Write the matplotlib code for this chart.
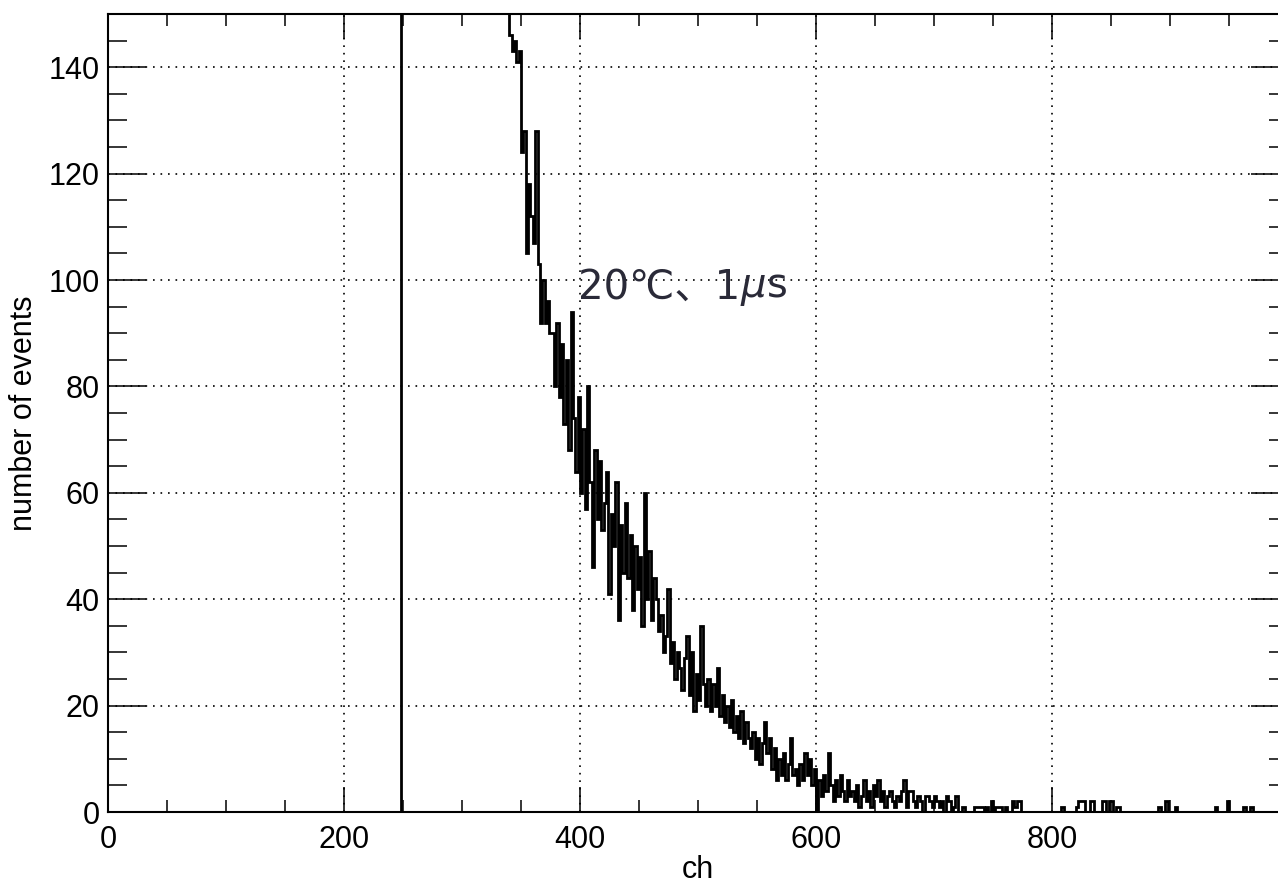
import numpy as np
import matplotlib.pyplot as plt
from matplotlib.ticker import MultipleLocator

# histogram: 2-channel bins
bin_width = 2
first_ch = 338
decay_counts = [
    152, 146, 143, 145, 141, 143, 124, 128, 105, 118,   # 338-356
    112, 107, 128, 103, 92, 100, 92, 96, 90, 90,        # 358-376
    80, 92, 78, 88, 73, 85, 68, 94, 74, 64,             # 378-396
    78, 60, 72, 57, 80, 62, 46, 68, 55, 66,             # 398-416
    53, 58, 64, 41, 56, 50, 62, 36, 54, 45,             # 418-436
    58, 44, 52, 38, 50, 42, 48, 35, 60, 40,             # 438-456
    49, 36, 44, 40, 34, 37, 30, 33, 42, 28,             # 458-476
    32, 25, 30, 27, 23, 29, 33, 22, 30, 19,             # 478-496
    26, 21, 35, 24, 20, 25, 19, 24, 20, 27,             # 498-516
    18, 22, 17, 20, 16, 21, 15, 18, 14, 19,             # 518-536
    13, 17, 14, 12, 15, 10, 14, 9, 13, 17,              # 538-556
    11, 14, 8, 12, 6, 10, 7, 11, 6, 9,                  # 558-576
    14, 7, 8, 5, 9, 6, 11, 7, 10, 5,                    # 578-596
    8, 0, 6, 3, 7, 4, 11, 5, 2, 6,                      # 598-616
    3, 7, 4, 2, 6, 3, 4, 2, 5, 1,                       # 618-636
    3, 6, 2, 4, 1, 5, 3, 6, 2, 4,                       # 638-656
    1, 3, 4, 2, 1, 3, 2, 4, 6, 1,                       # 658-676
    4, 4, 2, 1, 3, 2, 0, 3, 3, 2,                       # 678-696
    1, 3, 2, 1, 2, 0, 3, 2, 0, 1,                       # 698-716
    3, 0, 0, 1, 0, 0, 0, 0, 1, 1,                       # 718-736
    1, 1, 0, 1, 0, 2, 0, 1, 1, 1,                       # 738-756
    0, 1, 0, 0, 2, 1, 2, 2, 0,                          # 758-774
]
# sparse tail
tail_ch = [808, 820, 822, 824, 826, 832, 834, 842, 844, 848, 850, 854, 856,
           890, 896, 904, 938, 948, 962, 968]
tail_counts = [1, 1, 2, 2, 2, 2, 2, 2, 2, 2, 2, 1, 1,
               1, 2, 1, 1, 2, 1, 1]
# block between threshold and 338 runs far above the frame
threshold_ch = 248
overflow_level = 400
last_ch = 1000

n_bins = (last_ch - first_ch) // bin_width
counts = np.zeros(n_bins)
counts[:len(decay_counts)] = decay_counts
for c, v in zip(tail_ch, tail_counts):
    counts[(c - first_ch) // bin_width] = v

values = np.concatenate([[overflow_level], counts])
edges = np.concatenate([[threshold_ch], first_ch + bin_width * np.arange(n_bins + 1)])

plt.rcParams["font.family"] = ["Liberation Sans", "DejaVu Sans"]

fig = plt.figure(figsize=(12.78, 8.84), dpi=100)
# right edge sits just past the canvas, like the cropped original
ax = fig.add_axes([108 / 1278, 72 / 884, 1180 / 1278, 798 / 884])

ax.stairs(values, edges, baseline=0, color="black", lw=2.0)

ax.set_xlim(0, last_ch)
ax.set_ylim(0, 150)
ax.set_xticks(np.arange(0, 801, 200))
ax.set_yticks(np.arange(0, 141, 20))
ax.xaxis.set_minor_locator(MultipleLocator(50))
ax.yaxis.set_minor_locator(MultipleLocator(5))
ax.tick_params(which="both", direction="in", top=True, right=True,
               width=1.1, labelsize=22, colors="black")
ax.xaxis.set_tick_params(which="major", length=18, pad=9)
ax.xaxis.set_tick_params(which="minor", length=8.5)
ax.yaxis.set_tick_params(which="major", length=27, pad=6)
ax.yaxis.set_tick_params(which="minor", length=13.5)
for s in ax.spines.values():
    s.set_linewidth(1.5)

ax.grid(True, which="major", color="black", ls=(0, (1, 3.5)), lw=1.2)

ax.set_xlabel("ch", fontsize=22, labelpad=0)
ax.set_ylabel("number of events", fontsize=22, labelpad=6.5)

# annotation: plain part with font fallback, then italic mu + upright s
t1 = ax.text(398, 96.5, "20℃、1", fontsize=29, color="#2a2a38",
             family=["DejaVu Sans", "Noto Sans CJK JP"],
             va="baseline")
ax.annotate("$\\mu\\mathrm{s}$", xy=(1, 0), xycoords=t1, fontsize=29,
            color="#2a2a38", va="bottom", ha="left")

fig.savefig("out.png", dpi=100)
